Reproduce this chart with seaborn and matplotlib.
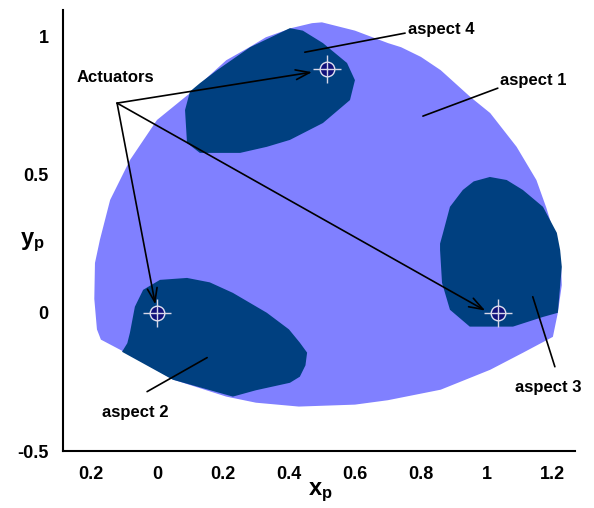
import matplotlib
matplotlib.use("Agg")
import matplotlib.pyplot as plt
import seaborn as sns
import pandas as pd

# ---- data ----
aspect1_x = [0.41, 0.47, 0.50, 0.60, 0.70, 0.74, 0.80, 0.86, 0.95, 1.01, 1.09, 1.15, 1.18, 1.21, 1.225, 1.227,
             1.215, 1.20, 1.11, 1.01, 0.86, 0.70, 0.60, 0.43, 0.30, 0.21, 0.05, -0.10, -0.17, -0.182,
             -0.19, -0.188, -0.173, -0.142, -0.082, 0.0, 0.10, 0.21, 0.28, 0.33]
aspect1_y = [1.03, 1.047, 1.05, 1.02, 0.975, 0.96, 0.925, 0.877, 0.78, 0.722, 0.60, 0.48, 0.38, 0.264, 0.166, 0.10,
             0.0, -0.087, -0.144, -0.206, -0.278, -0.316, -0.332, -0.339, -0.325, -0.303, -0.242, -0.141, -0.097, -0.06,
             0.05, 0.18, 0.264, 0.408, 0.552, 0.697, 0.794, 0.913, 0.96, 0.996]

aspect4_x = [0.13, 0.182, 0.282, 0.403, 0.442, 0.503, 0.576, 0.60, 0.585, 0.503, 0.403, 0.333, 0.252,
             0.13, 0.091, 0.085, 0.10]
aspect4_y = [0.83, 0.877, 0.96, 1.029, 1.02, 0.975, 0.903, 0.841, 0.769, 0.686, 0.625, 0.60, 0.578,
             0.578, 0.614, 0.733, 0.80]

aspect3_x = [1.009, 1.06, 1.109, 1.17, 1.212, 1.222, 1.227, 1.215, 1.17, 1.079, 0.948, 0.888, 0.864,
             0.858, 0.858, 0.867, 0.888, 0.927, 0.96]
aspect3_y = [0.491, 0.48, 0.444, 0.383, 0.289, 0.227, 0.166, 0.0, -0.015, -0.05, -0.05, 0.011, 0.108,
             0.227, 0.25, 0.289, 0.383, 0.444, 0.475]

aspect2_x = [0.009, 0.091, 0.16, 0.23, 0.333, 0.40, 0.433, 0.455, 0.45, 0.433, 0.403, 0.30, 0.23,
             0.048, -0.106, -0.09, -0.082, -0.067, -0.042]
aspect2_y = [0.119, 0.126, 0.11, 0.072, 0.0, -0.06, -0.108, -0.144, -0.19, -0.231, -0.253, -0.28, -0.303,
             -0.242, -0.141, -0.11, -0.072, 0.022, 0.083]

actuator_x = [0.0, 1.035, 0.515]
actuator_y = [0.0, 0.0, 0.88]

xtick_vals = [-0.2, 0.0, 0.2, 0.4, 0.6, 0.8, 1.0, 1.2]
xtick_labels = ["0.2", "0", "0.2", "0.4", "0.6", "0.8", "1", "1.2"]
ytick_vals = [-0.5, 0.0, 0.5, 1.0]
ytick_labels = ["-0.5", "0", "0.5", "1"]

LIGHT = "#8080FF"
DARK = "#004080"

sns.set_style("white")
plt.rcParams["font.family"] = ["Liberation Sans", "DejaVu Sans"]
plt.rcParams["text.color"] = "black"
plt.rcParams["mathtext.fontset"] = "custom"
plt.rcParams["mathtext.bf"] = "Liberation Sans:bold"
plt.rcParams["mathtext.rm"] = "Liberation Sans"
plt.rcParams["mathtext.it"] = "Liberation Sans:italic"

fig = plt.figure(figsize=(5.94, 5.08), dpi=100)
ax = fig.add_axes([0.106, 0.112, 0.862, 0.868])

ax.fill(aspect1_x, aspect1_y, color=LIGHT, lw=0, zorder=1)
for xs, ys in [(aspect4_x, aspect4_y), (aspect3_x, aspect3_y), (aspect2_x, aspect2_y)]:
    ax.fill(xs, ys, color=DARK, lw=0, zorder=2)

act = pd.DataFrame({"x": actuator_x, "y": actuator_y})
sns.scatterplot(data=act, x="x", y="y", ax=ax, s=110, color="#10107A",
                edgecolor="#E0E0F0", linewidth=1.0, zorder=5, legend=False)
sns.scatterplot(data=act, x="x", y="y", ax=ax, s=380, marker="+", color="#D8D8E8",
                linewidth=1.0, zorder=6, legend=False)

ax.set_xlim(-0.285, 1.267)
ax.set_ylim(-0.5, 1.094)
ax.set_xticks(xtick_vals)
ax.set_xticklabels(xtick_labels)
ax.set_yticks(ytick_vals)
ax.set_yticklabels(ytick_labels)
ax.tick_params(axis="both", direction="inout", length=9, width=1.3, colors="black",
               labelsize=13, pad=6)
for lab in ax.get_xticklabels() + ax.get_yticklabels():
    lab.set_fontweight("bold")
for side in ["top", "right"]:
    ax.spines[side].set_visible(False)
for side in ["left", "bottom"]:
    ax.spines[side].set_color("black")
    ax.spines[side].set_linewidth(1.5)

ax.set_xlabel("")
ax.set_ylabel("")
fig.text(320 / 594, 1 - 492 / 508, r"$\mathbf{x_p}$", ha="center", va="center", fontsize=17, color="black")
fig.text(32 / 594, 1 - 242 / 508, r"$\mathbf{y_p}$", ha="center", va="center", fontsize=17, color="black")

# Actuator annotation
src = (-0.121, 0.758)
ax.text(-0.127, 0.852, "Actuators", ha="center", va="center", fontsize=12, fontweight="bold",
        color="black", zorder=7)
for tgt in [(0.47, 0.87), (-0.005, 0.03), (0.995, 0.008)]:
    ax.annotate("", xy=tgt, xytext=src,
                arrowprops=dict(arrowstyle="->,head_length=1.0,head_width=0.35", lw=1.2, color="black",
                                shrinkA=0, shrinkB=0), zorder=7)

# aspect labels with leader lines
labels = [
    ("aspect 4", (0.762, 1.025), (0.752, 1.011), (0.448, 0.942)),
    ("aspect 1", (1.04, 0.841), (1.033, 0.812), (0.806, 0.711)),
    ("aspect 3", (1.085, -0.271), (1.206, -0.195), (1.139, 0.058)),
    ("aspect 2", (-0.167, -0.361), (-0.03, -0.285), (0.152, -0.162)),
]
for txt, tpos, p0, p1 in labels:
    ax.text(tpos[0], tpos[1], txt, ha="left", va="center", fontsize=12, fontweight="bold",
            color="black", zorder=7)
    ax.plot([p0[0], p1[0]], [p0[1], p1[1]], color="black", lw=1.2, zorder=7)

fig.savefig("out.png", dpi=100, facecolor="white")
